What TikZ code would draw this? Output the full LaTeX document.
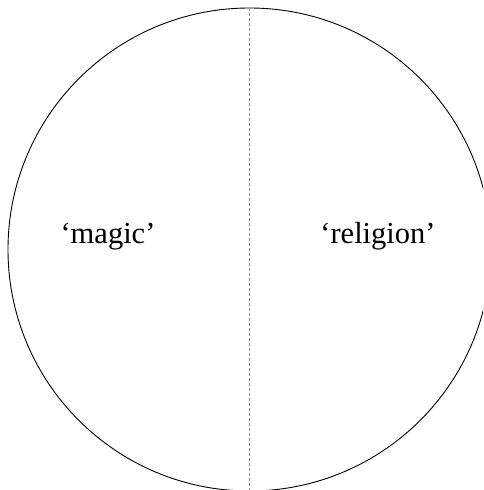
\documentclass[tikz,border=0pt]{standalone}
\usepackage{fontspec}
\setmainfont{Liberation Serif}
\usepackage{tikz}
\usetikzlibrary{positioning}
\definecolor{divblue}{RGB}{110,145,205}
\tikzset{
	wholecircle/.style={draw, circle, line width=0.9pt, minimum size=483pt, inner sep=0pt},
	divline/.style={draw=divblue, line width=1pt, dash pattern=on 3pt off 2pt},
	sidelabel/.style={font=\fontsize{30.5}{36}\selectfont, anchor=base},
}
\begin{document}
\begin{tikzpicture}[x=1pt, y=-1pt]
	\useasboundingbox (0,0) rectangle (483,490);
	\clip (0,0) rectangle (483,490);
	\node[wholecircle] (whole) at (249.5,249.5) {};
	\draw[divline] (whole.north) -- (whole.south);
	\node[sidelabel] (magic) at (108,243) {‘magic’};
	\node[sidelabel] (religion) at (378,243) {‘religion’};
\end{tikzpicture}
\end{document}
